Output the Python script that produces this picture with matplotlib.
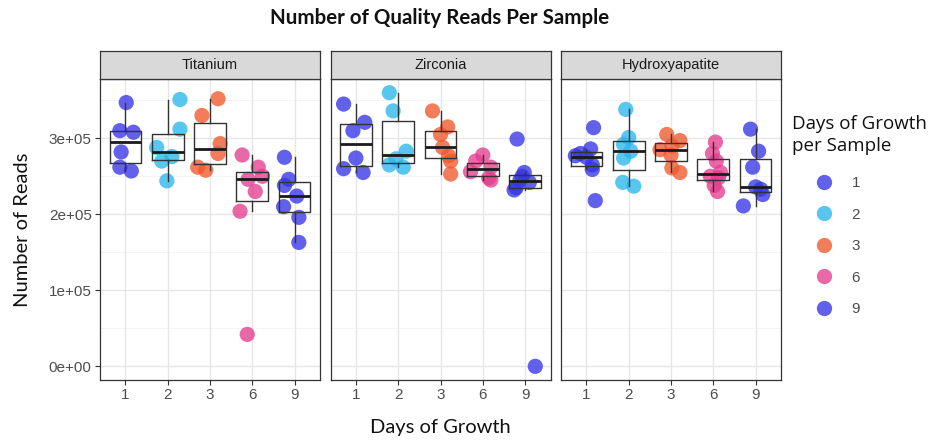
import matplotlib
matplotlib.use("Agg")
import matplotlib.pyplot as plt
from matplotlib.lines import Line2D
from matplotlib.ticker import FixedLocator, FuncFormatter

# ---------------- data ----------------
days = ["1", "2", "3", "6", "9"]
materials = ["Titanium", "Zirconia", "Hydroxyapatite"]
day_colors = ["#3535e6", "#29b6ea", "#f0592c", "#e43d8f", "#3535e6"]

titanium_reads = [
    [347000, 310000, 308000, 282000, 262000, 257000],
    [351000, 312000, 288000, 276000, 270000, 244000],
    [352000, 330000, 293000, 280000, 262000, 258000],
    [278000, 262000, 250000, 246000, 230000, 204000, 42000],
    [275000, 246000, 238000, 224000, 210000, 196000, 163000],
]
zirconia_reads = [
    [345000, 321000, 310000, 274000, 260000, 255000],
    [360000, 336000, 283000, 273000, 265000, 262000],
    [336000, 315000, 305000, 288000, 277000, 270000, 253000],
    [278000, 270000, 262000, 256000, 248000, 245000],
    [299000, 255000, 250000, 245000, 242000, 235000, 232000, 0],
]
hydroxyapatite_reads = [
    [314000, 286000, 280000, 277000, 275000, 265000, 259000, 218000],
    [338000, 301000, 292000, 283000, 274000, 242000, 237000],
    [305000, 297000, 290000, 285000, 278000, 261000, 255000],
    [295000, 280000, 270000, 255000, 250000, 248000, 238000, 230000],
    [312000, 283000, 262000, 236000, 233000, 226000, 211000],
]

# horizontal jitter (in category units)
titanium_jitter = [
    [0.02, -0.13, 0.19, -0.10, -0.13, 0.14],
    [0.29, 0.29, -0.26, 0.10, -0.14, -0.02],
    [0.19, -0.19, 0.24, 0.19, -0.29, -0.10],
    [-0.24, 0.14, 0.24, -0.10, 0.07, -0.29, -0.12],
    [-0.24, -0.14, -0.24, 0.05, -0.26, 0.10, 0.10],
]
zirconia_jitter = [
    [-0.29, 0.21, -0.07, 0.00, -0.29, 0.17],
    [-0.21, -0.12, 0.19, -0.05, -0.21, 0.12],
    [-0.19, 0.17, 0.00, 0.05, 0.19, 0.24, 0.24],
    [0.00, -0.17, 0.19, -0.29, 0.14, 0.19],
    [-0.19, -0.02, -0.07, -0.12, 0.10, -0.21, -0.26, 0.24],
]
hydroxyapatite_jitter = [
    [0.17, 0.10, -0.14, -0.26, 0.00, 0.14, 0.14, 0.21],
    [-0.07, 0.00, -0.12, 0.05, -0.12, -0.14, 0.12],
    [-0.10, 0.21, 0.02, -0.26, 0.00, 0.02, 0.21],
    [0.05, -0.02, 0.07, 0.17, -0.07, 0.12, 0.02, 0.10],
    [-0.12, 0.07, -0.07, 0.00, 0.12, 0.17, -0.29],
]

y_ticks = [0, 100000, 200000, 300000]
y_minor = [50000, 150000, 250000, 350000]

panel_reads = [titanium_reads, zirconia_reads, hydroxyapatite_reads]
panel_jitter = [titanium_jitter, zirconia_jitter, hydroxyapatite_jitter]

# ---------------- figure ----------------
W, H = 936, 443
fig = plt.figure(figsize=(W / 100, H / 100), dpi=100)

def fx(px):
    return px / W

def fy(py):
    return 1 - py / H

panel_lefts = [100, 330.5, 561]
panel_w = 220
panel_top, panel_bot = 79, 380
strip_top = 51

tick_font = {"family": ["Liberation Sans", "DejaVu Sans"], "size": 11, "color": "#4d4d4d"}
title_family = ["Lato", "DejaVu Sans"]

for k, (mat, reads, jit) in enumerate(zip(materials, panel_reads, panel_jitter)):
    left = panel_lefts[k]
    ax = fig.add_axes([fx(left), fy(panel_bot), fx(panel_w), (panel_bot - panel_top) / H])
    ax.set_facecolor("white")
    positions = list(range(1, len(days) + 1))

    # grid
    for v in y_minor:
        ax.axhline(v, color="#f2f2f2", lw=0.6, zorder=0)
    for v in y_ticks:
        ax.axhline(v, color="#e6e6e6", lw=1.0, zorder=0)
    for p in positions:
        ax.axvline(p, color="#e6e6e6", lw=1.0, zorder=0)

    # jittered points
    for i, (vals, js) in enumerate(zip(reads, jit)):
        xs = [positions[i] + j for j in js]
        ax.scatter(xs, vals, s=120, color=day_colors[i], alpha=0.78,
                   edgecolors="none", zorder=2)

    # boxplots
    ax.boxplot(reads, positions=positions, widths=0.75, showfliers=False,
               patch_artist=False, whis=1.5, showcaps=False,
               boxprops=dict(color="#333333", lw=1.0),
               whiskerprops=dict(color="#333333", lw=1.0),
               medianprops=dict(color="#1a1a1a", lw=2.0),
               zorder=3)

    ax.set_xlim(0.4, 5.6)
    ax.set_ylim(-18000, 378000)
    ax.set_xticks(positions)
    ax.set_xticklabels(days, fontdict=tick_font)
    ax.yaxis.set_major_locator(FixedLocator(y_ticks))
    ax.yaxis.set_major_formatter(FuncFormatter(lambda v, p: f"{v:.0e}"))
    ax.tick_params(axis="both", length=3.5, width=0.8, color="#333333", pad=2.5)
    if k == 0:
        for lab in ax.get_yticklabels():
            lab.set_fontfamily(tick_font["family"])
            lab.set_fontsize(tick_font["size"])
            lab.set_color(tick_font["color"])
    else:
        ax.tick_params(axis="y", left=False, labelleft=False)
    for sp in ax.spines.values():
        sp.set_color("#333333")
        sp.set_linewidth(0.9)

    # strip
    sax = fig.add_axes([fx(left), fy(panel_top), fx(panel_w), (panel_top - strip_top) / H])
    sax.set_facecolor("#d9d9d9")
    sax.set_xticks([])
    sax.set_yticks([])
    for sp in sax.spines.values():
        sp.set_color("#333333")
        sp.set_linewidth(0.9)
    sax.text(0.5, 0.5, mat, ha="center", va="center", fontsize=10.5,
             color="#1a1a1a", family=["Liberation Sans", "DejaVu Sans"],
             transform=sax.transAxes)

# titles
fig.text(fx(440), fy(18), "Number of Quality Reads Per Sample", ha="center", va="center",
         fontsize=14.8, fontweight="bold", family=title_family, color="#111111")
fig.text(fx(440), fy(427), "Days of Growth", ha="center", va="center",
         fontsize=14.5, family=title_family, color="#111111")
fig.text(fx(23), fy(230), "Number of Reads", ha="center", va="center", rotation=90,
         fontsize=14.5, family=title_family, color="#111111")

# legend
fig.text(fx(792), fy(135), "Days of Growth\nper Sample", ha="left", va="center",
         fontsize=13.5, family=["Open Sans", "DejaVu Sans"], color="#111111",
         linespacing=1.3)
handles = [Line2D([], [], ls="none", marker="o", markersize=11, markeredgewidth=0,
                  markerfacecolor=c, alpha=0.78) for c in day_colors]
leg = fig.legend(handles, days, loc="upper left", bbox_to_anchor=(fx(812), fy(176)),
                 frameon=False,
                 prop={"family": ["Liberation Sans", "DejaVu Sans"], "size": 11},
                 labelspacing=1.15, handletextpad=1.0, handlelength=1.6,
                 borderaxespad=0, borderpad=0)
for t in leg.get_texts():
    t.set_color("#4d4d4d")

fig.savefig("out.png", dpi=100)
